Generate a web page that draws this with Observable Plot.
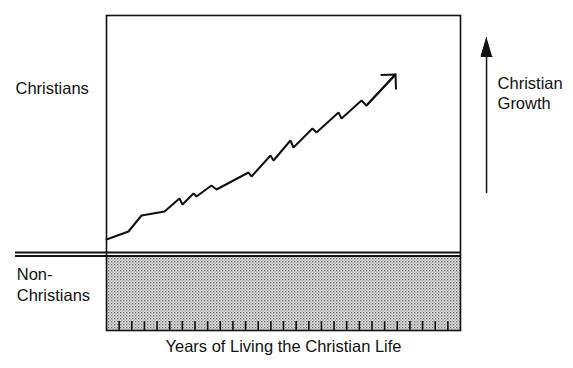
<!DOCTYPE html>
<html>
<head>
<meta charset="utf-8">
<script src="https://cdn.jsdelivr.net/npm/d3@7"></script>
<script src="https://cdn.jsdelivr.net/npm/@observablehq/plot@0.6"></script>
<style>
  html, body { margin: 0; padding: 0; background: white; }
</style>
</head>
<body>
<div id="chart"></div>
<script>
// Christian growth path: years of living the Christian life vs. growth level
const years  = [0, 1.74, 2.77, 4.59, 5.77, 6.01, 6.88, 7.12, 8.30, 8.70, 11.23, 11.47, 12.97, 13.21, 14.55, 14.79, 16.29, 16.61, 18.35, 18.59, 20.17, 20.56, 22.86];
const growth = [14, 22, 38, 42, 55, 49, 60, 57, 68, 64, 81, 77, 98, 93, 113, 106, 125, 121, 141, 135, 153, 148, 179];

// Year tick marks along the bottom
const tickYears = [1, 2, 3, 4, 5, 6, 7, 8, 9, 10, 11, 12, 13, 14, 15, 16, 17, 18, 19, 20, 21, 22, 23, 24, 25, 26, 27];

// Region boundary (conversion) and extents
const xDomain = [0, 28];
const yDomain = [-77, 238];
const boundaryLines = [1, -2.5];
const nonChristianTop = -3;

// Labels
const regionLabels = [
  {x: -7.2, y: 165, text: "Christians"},
  {x: -7.1, y: -21, text: "Non-"},
  {x: -7.1, y: -42, text: "Christians"},
  {x: 30.93, y: 170, text: "Christian"},
  {x: 30.93, y: 150, text: "Growth"}
];
const xLabel = "Years of Living the Christian Life";

// "Christian Growth" arrow
const growthArrowX = 30.06;
const growthArrowFrom = 60;
const growthArrowTo = 216;
const growthHeadBase = 197;
const growthHeadHalf = 0.44;

const pts = years.map((x, i) => ({x, y: growth[i]}));
const last = pts[pts.length - 1], prev = pts[pts.length - 2];
const head = [
  {x: growthArrowX, y: growthArrowTo},
  {x: growthArrowX - growthHeadHalf, y: growthHeadBase},
  {x: growthArrowX + growthHeadHalf, y: growthHeadBase}
];

const font = "'Liberation Sans', Arial, Helvetica, sans-serif";

const chart = Plot.plot({
  width: 573,
  height: 368,
  marginLeft: 106,
  marginRight: 113,
  marginTop: 15,
  marginBottom: 38,
  style: {fontFamily: font, fontSize: "16.5px", background: "white", color: "black"},
  x: {domain: xDomain, axis: null},
  y: {domain: yDomain, axis: null},
  marks: [
    Plot.rect([{}], {x1: xDomain[0], x2: xDomain[1], y1: yDomain[0], y2: nonChristianTop, fill: "url(#stipple)"}),
    Plot.ruleY(boundaryLines, {x1: -7.2, x2: xDomain[1], stroke: "#111", strokeWidth: 1.8}),
    Plot.ruleX(tickYears, {y1: yDomain[0], y2: yDomain[0] + 9, stroke: "#111", strokeWidth: 1.6}),
    Plot.frame({stroke: "#111", strokeWidth: 1.6}),
    Plot.line(pts, {x: "x", y: "y", stroke: "#111", strokeWidth: 2, strokeLinejoin: "miter"}),
    Plot.arrow([{}], {x1: prev.x, y1: prev.y, x2: last.x, y2: last.y, stroke: "#111", strokeWidth: 2, headLength: 12, headAngle: 90}),
    Plot.ruleX([growthArrowX], {y1: growthArrowFrom, y2: growthHeadBase + 2, stroke: "#111", strokeWidth: 1.5}),
    Plot.line(head, {x: "x", y: "y", fill: "#111", stroke: "#111", strokeWidth: 1}),
    Plot.text(regionLabels, {x: "x", y: "y", text: "text", textAnchor: "start", fontSize: 16.5, fill: "#111"}),
    Plot.text([xLabel], {x: (xDomain[0] + xDomain[1]) / 2, y: -93, text: d => d, fontSize: 16.5, fill: "#111"})
  ]
});

// stipple pattern for the non-Christian region
const ns = "http://www.w3.org/2000/svg";
const defs = document.createElementNS(ns, "defs");
const pat = document.createElementNS(ns, "pattern");
pat.setAttribute("id", "stipple");
pat.setAttribute("patternUnits", "userSpaceOnUse");
pat.setAttribute("width", "3");
pat.setAttribute("height", "3");
const bg = document.createElementNS(ns, "rect");
bg.setAttribute("width", "3"); bg.setAttribute("height", "3"); bg.setAttribute("fill", "#e2e2e2");
pat.appendChild(bg);
const dot = document.createElementNS(ns, "rect");
dot.setAttribute("x", "0"); dot.setAttribute("y", "0");
dot.setAttribute("width", "1.3"); dot.setAttribute("height", "1.3"); dot.setAttribute("fill", "#666");
pat.appendChild(dot);
const dot2 = document.createElementNS(ns, "rect");
dot2.setAttribute("x", "1.5"); dot2.setAttribute("y", "1.5");
dot2.setAttribute("width", "1.2"); dot2.setAttribute("height", "1.2"); dot2.setAttribute("fill", "#8a8a8a");
pat.appendChild(dot2);
defs.appendChild(pat);
chart.insertBefore(defs, chart.firstChild);
chart.querySelectorAll('g[aria-label="rect"] rect').forEach(r => r.setAttribute("fill", "url(#stipple)"));

document.getElementById("chart").appendChild(chart);
</script>
</body>
</html>
